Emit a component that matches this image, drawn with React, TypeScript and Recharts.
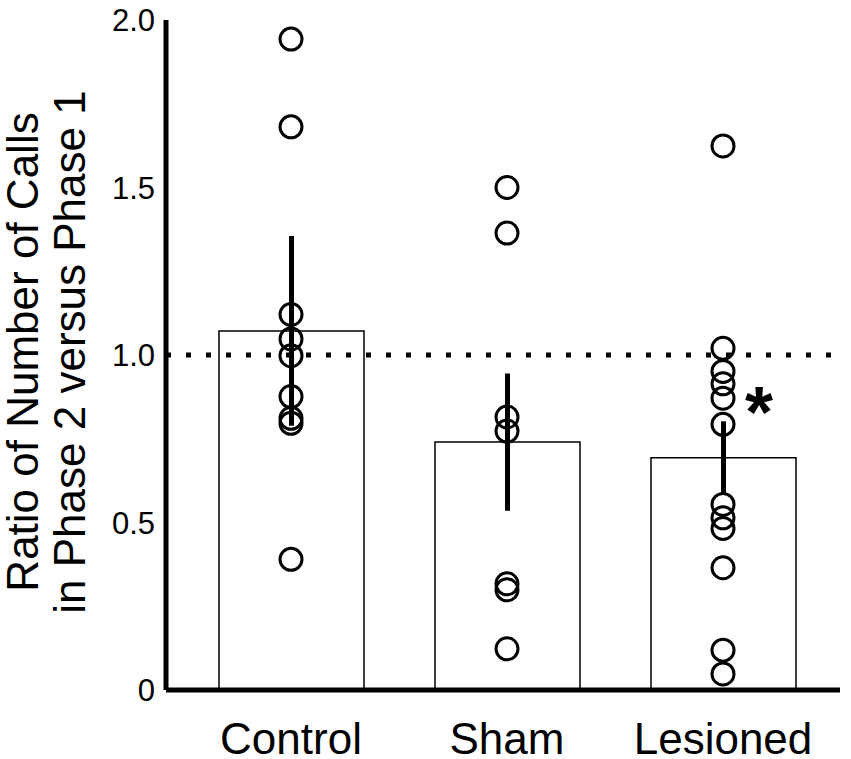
import React from 'react';
import { ComposedChart, Bar, Scatter, XAxis, YAxis, ErrorBar, ReferenceLine, ReferenceDot } from 'recharts';

const categories = ['Control', 'Sham', 'Lesioned'];
const means = [1.072, 0.74, 0.693];
const sem = [0.283, 0.205, 0.109];

const controlPoints = [1.943, 1.681, 1.121, 1.048, 0.998, 0.876, 0.811, 0.796, 0.39];
const shamPoints = [1.5, 1.364, 0.815, 0.773, 0.317, 0.299, 0.123];
const lesionedPoints = [1.624, 1.02, 0.951, 0.914, 0.871, 0.793, 0.554, 0.514, 0.482, 0.365, 0.119, 0.048];

const yTicks = [0, 0.5, 1, 1.5, 2];
const yTitle = ['Ratio of Number of Calls', 'in Phase 2 versus Phase 1'];
const starValue = 0.88;

const FONT = '"Liberation Sans", Arial, Helvetica, sans-serif';

const barData = categories.map((group, i) => ({ group, mean: means[i], err: sem[i] }));

const pointData = [
    ...controlPoints.map(value => ({ group: categories[0], value })),
    ...shamPoints.map(value => ({ group: categories[1], value })),
    ...lesionedPoints.map(value => ({ group: categories[2], value })),
];

const Ring = (props: any) => (
    <circle cx={props.cx} cy={props.cy} r={11} fill="none" stroke="#000" strokeWidth={3} />
);

// rotated two-line axis title
const YTitle = (props: any) => {
    const vb = props.viewBox;
    const cy = vb.y + vb.height / 2 - 3;
    return (
        <g>
            <text x={38} y={cy} transform={`rotate(-90 38 ${cy})`} textAnchor="middle" fontSize={44} fontFamily={FONT} fill="#000">
                {yTitle[0]}
            </text>
            <text x={85} y={cy} transform={`rotate(-90 85 ${cy})`} textAnchor="middle" fontSize={44} fontFamily={FONT} fill="#000">
                {yTitle[1]}
            </text>
        </g>
    );
};

const Star = (props: any) => (
    <text x={props.cx + 36} y={props.cy + 0.58 * 72} textAnchor="middle" fontSize={72} fontWeight="bold" fontFamily={FONT} fill="#000">
        *
    </text>
);

export default function App() {
    return (
        <div style={{ position: 'absolute', left: 0, top: 0, background: '#fff' }}>
            <ComposedChart width={851} height={759} data={barData} margin={{ top: 20, right: 11, bottom: 0, left: 0 }}>
                <XAxis
                    dataKey="group"
                    type="category"
                    height={69}
                    allowDuplicatedCategory={false}
                    padding={{ left: 17, right: 9 }}
                    axisLine={{ stroke: '#000', strokeWidth: 5 }}
                    tickLine={false}
                    tickSize={6}
                    tickMargin={27}
                    tick={{ fill: '#000', fontSize: 44, fontFamily: FONT }}
                />
                <YAxis
                    width={166}
                    domain={[0, 2]}
                    ticks={yTicks}
                    interval={0}
                    axisLine={{ stroke: '#000', strokeWidth: 5 }}
                    tickLine={false}
                    tickSize={6}
                    tickMargin={5}
                    tickFormatter={(v: number) => (v === 0 ? '0' : v.toFixed(1))}
                    tick={{ fill: '#000', fontSize: 31, fontFamily: FONT }}
                    label={<YTitle />}
                />
                <Bar dataKey="mean" barSize={145} fill="#fff" stroke="#000" strokeWidth={1.5} isAnimationActive={false}>
                    <ErrorBar dataKey="err" width={0} stroke="#000" strokeWidth={5} direction="y" />
                </Bar>
                <ReferenceLine y={1} stroke="#000" strokeWidth={5} strokeDasharray="5 15" />
                <Scatter data={pointData} dataKey="value" shape={<Ring />} isAnimationActive={false} />
                <ReferenceDot x={categories[2]} y={starValue} r={0} shape={<Star />} />
            </ComposedChart>
        </div>
    );
}
